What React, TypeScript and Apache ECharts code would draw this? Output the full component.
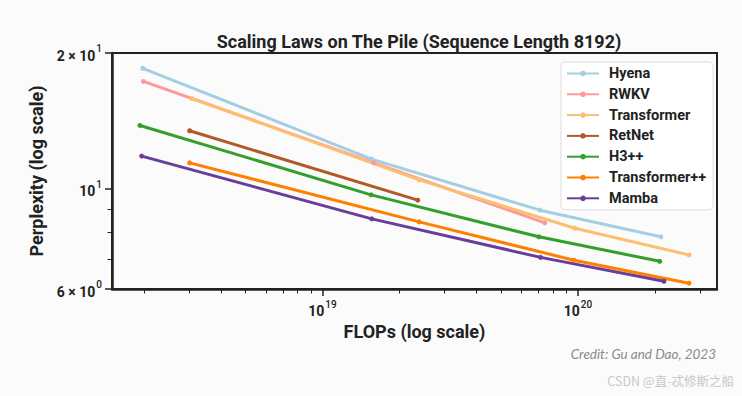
import React, { useEffect, useRef } from "react";
import * as echarts from "echarts";

const seriesNames = ["Hyena", "RWKV", "Transformer", "RetNet", "H3++", "Transformer++", "Mamba"];
const seriesColors = ["#a6cee3", "#fb9a99", "#fdbf6f", "#b15928", "#33a02c", "#ff7f00", "#6a3d9a"];

const hyenaX = [1.98e18, 1.556e19, 7.1e19, 2.11e20];
const hyenaY = [18.5, 11.64, 8.97, 7.83];
const rwkvX = [1.99e18, 1.59e19, 7.41e19];
const rwkvY = [17.3, 11.42, 8.41];
const transformerX = [3.08e18, 2.39e19, 9.72e19, 2.72e20];
const transformerY = [15.86, 10.47, 8.18, 7.14];
const retnetX = [3.02e18, 2.36e19];
const retnetY = [13.45, 9.44];
const h3X = [1.93e18, 1.55e19, 7.03e19, 2.09e20];
const h3Y = [13.82, 9.7, 7.83, 6.91];
const transformerPPX = [3.02e18, 2.39e19, 9.64e19, 2.72e20];
const transformerPPY = [11.42, 8.45, 6.95, 6.18];
const mambaX = [1.96e18, 1.56e19, 7.14e19, 2.17e20];
const mambaY = [11.82, 8.58, 7.05, 6.24];

const xMajorTicks = [1e19, 1e20];
const xMinorTicks = [2e18, 3e18, 4e18, 5e18, 6e18, 7e18, 8e18, 9e18, 2e19, 3e19, 4e19, 5e19, 6e19, 7e19, 8e19, 9e19, 2e20, 3e20];
const yMajorTicks = [6, 10, 20];
const yMinorTicks = [7, 8, 9];

const titleText = "Scaling Laws on The Pile (Sequence Length 8192)";
const xName = "FLOPs (log scale)";
const yName = "Perplexity (log scale)";
const creditText = "Credit: Gu and Dao, 2023";
const watermarkText = "CSDN @直-忒修斯之船";

const xs = [hyenaX, rwkvX, transformerX, retnetX, h3X, transformerPPX, mambaX];
const ys = [hyenaY, rwkvY, transformerY, retnetY, h3Y, transformerPPY, mambaY];

const FONT = "Roboto";
const DARK = "#222222";

function sciLabel(v: number) {
  const e = Math.floor(Math.log10(v) + 1e-9);
  const m = Math.round(v / Math.pow(10, e));
  return m === 1 ? `{b|10}{s|${e}}` : `{b|${m} × 10}{s|${e}}`;
}

const richLabel = {
  b: { fontSize: 14, fontFamily: FONT, fontWeight: "bold", color: DARK, lineHeight: 19, verticalAlign: "bottom" },
  s: { fontSize: 10, fontFamily: FONT, fontWeight: 500, color: DARK, lineHeight: 19, verticalAlign: "top", padding: [0, 0, 0, 1] },
};

export default function App() {
  const ref = useRef<HTMLDivElement>(null);
  useEffect(() => {
    if (!ref.current) return;
    const chart = echarts.init(ref.current, null, { renderer: "svg" });
    const xMin = 1.5e18;
    const xMax = 3.5e20;
    const yMin = 6;
    const yMax = 20;
    const option: any = {
      animation: false,
      backgroundColor: "#fbfbfb",
      title: {
        text: titleText,
        left: 414,
        top: 27,
        textAlign: "center",
        textStyle: { fontFamily: FONT, fontSize: 18, fontWeight: "bold", color: DARK },
      },
      grid: {
        left: 112,
        right: 25,
        top: 53,
        bottom: 107,
        show: true,
        borderColor: DARK,
        borderWidth: 2,
        backgroundColor: "transparent",
      },
      legend: {
        orient: "vertical",
        left: 561,
        top: 62,
        backgroundColor: "#ffffff",
        borderColor: "#dddddd",
        borderWidth: 1,
        borderRadius: 4,
        padding: [4, 7, 4, 5],
        itemWidth: 32,
        itemHeight: 7,
        itemGap: 5.8,
        data: seriesNames,
        textStyle: { fontFamily: FONT, fontSize: 14.5, fontWeight: "bold", color: DARK, padding: [0, 0, 0, 5] },
      },
      xAxis: [
        {
          type: "log",
          min: xMin,
          max: xMax,
          position: "bottom",
          name: xName,
          nameLocation: "middle",
          nameGap: 30,
          nameTextStyle: { fontFamily: FONT, fontSize: 18, fontWeight: "bold", color: DARK },
          axisLine: { show: true, lineStyle: { color: DARK, width: 2.5 } },
          axisTick: { show: true, customValues: xMajorTicks, length: 7, lineStyle: { color: DARK, width: 1.5 } },
          axisLabel: { show: true, customValues: xMajorTicks, margin: 10, formatter: (v: number) => sciLabel(v), rich: richLabel },
          splitLine: { show: false },
          minorTick: { show: false },
        },
        {
          type: "log",
          min: xMin,
          max: xMax,
          position: "bottom",
          axisLine: { show: false },
          axisTick: { show: true, customValues: xMinorTicks, length: 4.5, lineStyle: { color: DARK, width: 1 } },
          axisLabel: { show: false },
          splitLine: { show: false },
        },
      ],
      yAxis: [
        {
          type: "log",
          min: yMin,
          max: yMax,
          position: "left",
          name: yName,
          nameLocation: "middle",
          nameGap: 60,
          nameTextStyle: { fontFamily: FONT, fontSize: 18, fontWeight: "bold", color: DARK },
          axisLine: { show: true, lineStyle: { color: DARK, width: 2.5 } },
          axisTick: { show: true, customValues: yMajorTicks, length: 7, lineStyle: { color: DARK, width: 1.5 } },
          axisLabel: { show: true, customValues: yMajorTicks, margin: 10, formatter: (v: number) => sciLabel(v), rich: richLabel },
          splitLine: { show: false },
        },
        {
          type: "log",
          min: yMin,
          max: yMax,
          position: "left",
          axisLine: { show: false },
          axisTick: { show: true, customValues: yMinorTicks, length: 4.5, lineStyle: { color: DARK, width: 1 } },
          axisLabel: { show: false },
          splitLine: { show: false },
        },
      ],
      graphic: [
        {
          type: "text",
          right: 26,
          top: 347,
          style: { text: creditText, font: "italic 13.5px Lato", fill: "#8a8a8a" },
        },
        {
          type: "text",
          right: 8,
          top: 374,
          style: { text: watermarkText, font: "12.5px 'Noto Sans CJK SC'", fill: "#c8c8c8" },
        },
      ],
      series: seriesNames.map((name, i) => ({
        name,
        type: "line",
        xAxisIndex: 0,
        yAxisIndex: 0,
        data: xs[i].map((x, j) => [x, ys[i][j]]),
        symbol: "circle",
        symbolSize: 5,
        showSymbol: true,
        color: seriesColors[i],
        lineStyle: { width: 3, color: seriesColors[i] },
        itemStyle: { color: seriesColors[i] },
      })),
    };
    chart.setOption(option);
    return () => chart.dispose();
  }, []);
  return <div ref={ref} style={{ position: "fixed", left: 0, top: 0, width: 742, height: 396 }} />;
}
